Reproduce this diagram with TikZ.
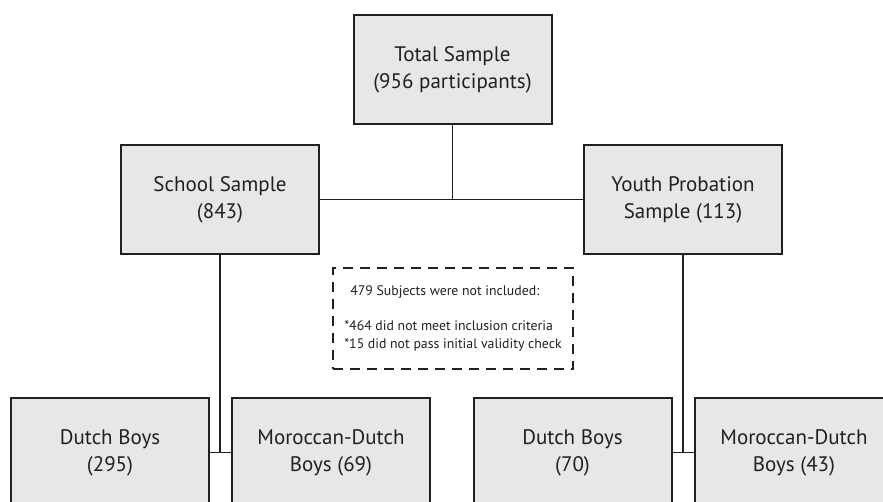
\documentclass[tikz,border=0pt]{standalone}
\usepackage{fontspec}
\setmainfont{PT Sans}
\begin{document}
\begin{tikzpicture}[x=1pt,y=-1pt,
  every node/.style={font=\fontsize{21}{27}\selectfont, text=ink},
  samplebox/.style={draw=ink, line width=2pt, fill=boxgray,
    minimum width=198pt, minimum height=109pt, inner sep=0pt, align=center},
  link/.style={draw=ink, line width=1.7pt},
  notebox/.style={draw=ink, line width=1.8pt, dash pattern=on 10pt off 7pt,
    minimum width=240pt, minimum height=101pt, inner sep=0pt, align=left,
    font=\fontsize{13.8}{17.5}\selectfont}]
\definecolor{ink}{HTML}{231F20}
\definecolor{boxgray}{HTML}{E6E7E8}
\clip (0,0) rectangle (883,501);
\fill[white] (0,0) rectangle (883,501);

% top level
\node[samplebox] (total) at (452.5,69.5) {Total Sample\\(956 participants)};

% second level
\node[samplebox] (school) at (220,199.5) {School Sample\\(843)};
\node[samplebox] (youth)  at (683,199.5) {Youth Probation\\Sample (113)};

% excluded subjects
\node[notebox] (excl) at (453,318.5)
  {\hspace{6pt}479 Subjects were not included:\\[17.5pt]
   *464 did not meet inclusion criteria\\
   *15 did not pass initial validity check};

% bottom level
\node[samplebox] (d1) at (110,452.5)   {Dutch Boys\\(295)};
\node[samplebox] (m1) at (331,452.5)   {Moroccan-Dutch\\Boys (69)};
\node[samplebox] (d2) at (572.5,452.5) {Dutch Boys\\(70)};
\node[samplebox] (m2) at (794,452.5)   {Moroccan-Dutch\\Boys (43)};

% connectors
\draw[link] (total.south) -- (total.south |- school.east);
\draw[link] (school.east) -- (youth.west);
\draw[link] (school.south) -- (school.south |- d1.east);
\draw[link] (d1.east) -- (m1.west);
\draw[link] (youth.south) -- (youth.south |- d2.east);
\draw[link] (d2.east) -- (m2.west);
\end{tikzpicture}
\end{document}
